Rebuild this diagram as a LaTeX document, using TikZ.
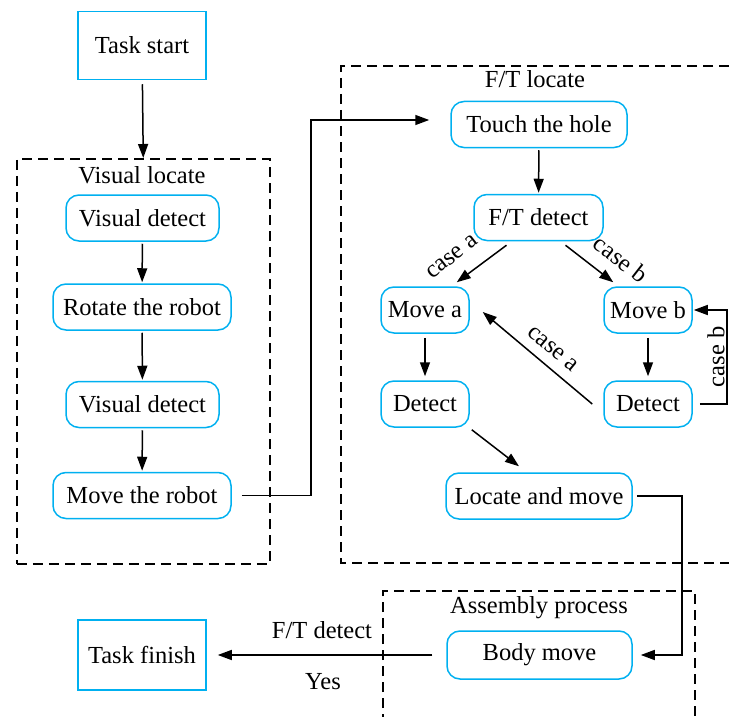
\documentclass[tikz,border=0pt]{standalone}
\usepackage{fontspec}
\setmainfont{Liberation Serif}
\newfontfamily\timesf{Liberation Serif}
\usetikzlibrary{arrows.meta,calc}
\definecolor{boxblue}{RGB}{0,176,240}
\begin{document}
\begin{tikzpicture}[x=1pt,y=-1pt,
  font=\timesf\fontsize{24.5}{29}\selectfont,
  rbox/.style={draw=boxblue, line width=1.5pt, rounded corners=13pt, minimum height=46pt, inner sep=0pt},
  sbox/.style={draw=boxblue, line width=1.5pt, minimum height=68pt, minimum width=128pt, inner sep=0pt},
  group/.style={draw=black, line width=1.5pt, dash pattern=on 10pt off 6pt},
  arr/.style={-{Triangle[length=14pt,width=10pt]}, line width=1.5pt},
  lbl/.style={inner sep=1pt}]
\useasboundingbox (0,0) rectangle (729,717);
\clip (0,0) rectangle (729,717);

% groups
\node[group, minimum width=253pt, minimum height=405pt, anchor=north west, inner sep=0pt] (vis) at (16,158) {};
\draw[group] (745,66) -| (341,563) -- (745,563);
\draw[group] (383,740) |- (695,591) -- (695,740);
\node[lbl] (vislbl) at (142,175) {Visual locate};
\node[lbl] (ftlbl) at (535,79) {F/T locate};
\node[lbl] (asmlbl) at (539,608) {Assembly process};

% nodes
\node[sbox] (start) at (142,45.5) {Task start};
\node[sbox, minimum height=70pt] (finish) at (142,655) {Task finish};
\node[rbox, minimum width=153pt] (vd1) at (142.5,218) {Visual detect};
\node[rbox, minimum width=178pt] (rot) at (142,307) {Rotate the robot};
\node[rbox, minimum width=153pt] (vd2) at (142.5,404.5) {Visual detect};
\node[rbox, minimum width=178pt] (mover) at (142,495.5) {Move the robot};

\node[rbox, minimum width=176pt] (touch) at (539,124.5) {Touch the hole};
\node[rbox, minimum width=129pt] (ftd) at (538.5,217.5) {F/T detect};
\node[rbox, minimum width=88pt] (movea) at (425,310) {Move a};
\node[rbox, minimum width=88pt] (moveb) at (648,310) {Move b};
\node[rbox, minimum width=88pt] (deta) at (425,404) {Detect};
\node[rbox, minimum width=88pt] (detb) at (648,404) {Detect};
\node[rbox, minimum width=186pt] (locm) at (539,496) {Locate and move};
\node[rbox, minimum width=185pt, minimum height=48pt] (body) at (539.5,655) {Body move};

% connectors
\draw[arr, shorten <=4pt] (start) -- (vis.north);
\draw[arr, shorten <=2pt, shorten >=1pt] (vd1) -- (rot);
\draw[arr, shorten <=2pt, shorten >=1pt] (rot) -- (vd2);
\draw[arr, shorten <=2pt, shorten >=1pt] (vd2) -- (mover);
\draw[arr, shorten <=10pt, shorten >=21pt] (mover.east) -| (311,120) -- ([yshift=4.5pt]touch.west);

\draw[arr, shorten <=2pt, shorten >=1pt] (touch) -- (ftd);
\draw[arr] ($(ftd.south)+(-32,4)$) -- ($(movea.north east)+(-13,-4)$);
\draw[arr] ($(ftd.south)+(27,4)$) -- ($(moveb.north west)+(10,-4)$);
\node[lbl, rotate=38] (casea1) at (452,257) {case a};
\node[lbl, rotate=-38] (caseb1) at (621,259) {case b};

\draw[arr, shorten <=4pt, shorten >=4pt] (movea) -- (deta);
\draw[arr, shorten <=4pt, shorten >=4pt] (moveb) -- (detb);
\draw[arr, shorten <=7pt, shorten >=1pt] (detb.east) -- (727,404) |- (moveb.east);
\node[lbl, rotate=90] (caseb2) at (716,357) {case b};
\draw[arr] ($(detb.west)+(-11,0)$) -- ($(movea.east)+(13,2)$);
\node[lbl, rotate=-39.6] (casea2) at (553,349) {case a};

\draw[arr] ($(deta.south east)+(2,2)$) -- ($(locm.north)+(-20,-6)$);
\draw[arr, shorten <=4pt, shorten >=8pt] (locm.east) -- (682,496) |- (body.east);
\draw[arr, shorten <=14pt, shorten >=11pt] (body.west) -- (finish.east);
\node[lbl] (ftdet) at (322,630) {F/T detect};
\node[lbl] (yes) at (323,682) {Yes};
\end{tikzpicture}
\end{document}
